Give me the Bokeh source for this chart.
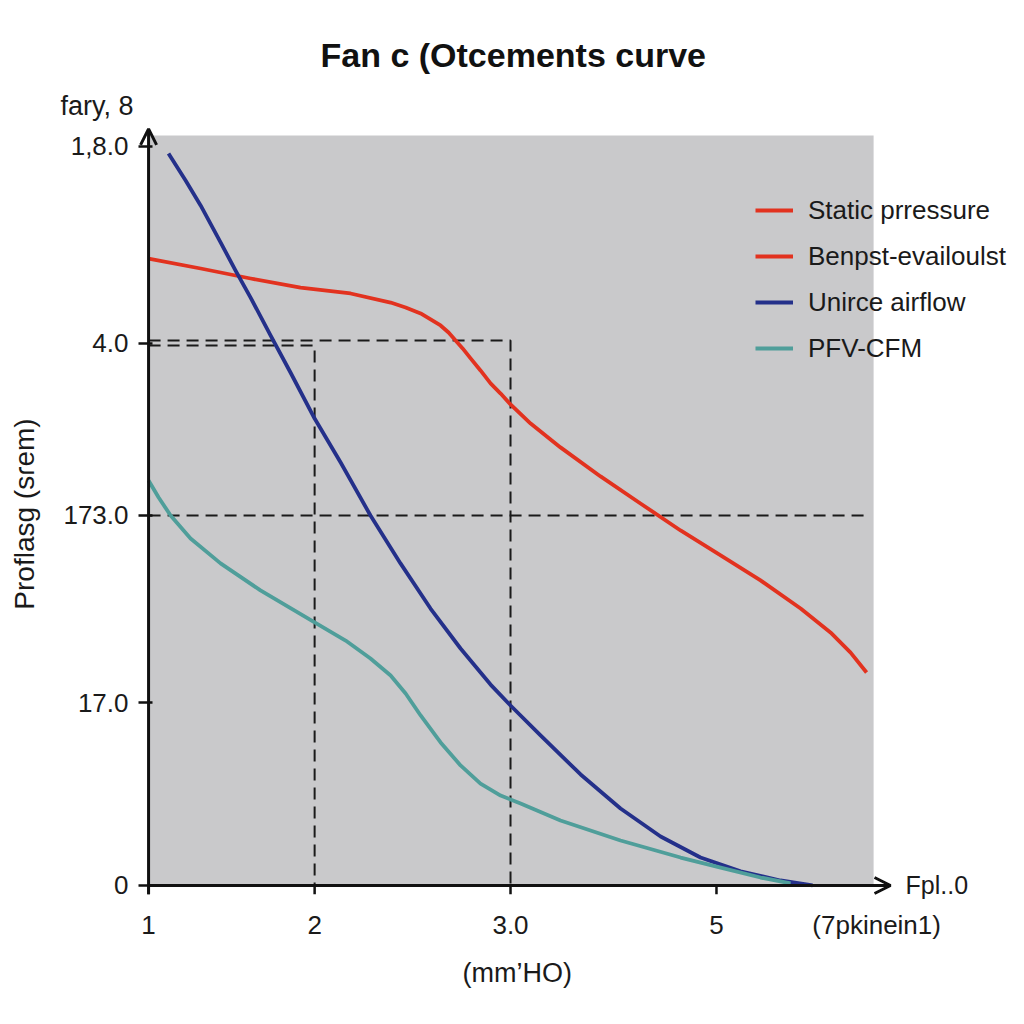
from bokeh.plotting import figure
from bokeh.models import (Legend, LegendItem, Label, Arrow, OpenHead,
                          FixedTicker, BoxAnnotation, Title)
from bokeh.embed import file_html
from bokeh.resources import INLINE

# ---- data ----
static_x = [1.000, 1.274, 1.537, 1.800, 2.063, 2.274, 2.353, 2.432, 2.537, 2.579,
            2.616, 2.653, 2.695, 2.747, 2.800, 2.853, 2.905, 3.011, 3.168, 3.379,
            3.589, 3.800, 4.011, 4.221, 4.432, 4.589, 4.695, 4.779]
static_y = [3.389, 3.335, 3.281, 3.232, 3.200, 3.151, 3.124, 3.092, 3.027, 2.989,
            2.946, 2.903, 2.849, 2.784, 2.714, 2.659, 2.600, 2.497, 2.368, 2.211,
            2.065, 1.919, 1.784, 1.649, 1.497, 1.368, 1.259, 1.151]

airflow_x = [1.105, 1.195, 1.274, 1.379, 1.458, 1.537, 1.642, 1.747, 1.874, 2.011,
             2.168, 2.326, 2.484, 2.642, 2.800, 2.905, 3.063, 3.274, 3.484, 3.695,
             3.905, 4.116, 4.326, 4.495]
airflow_y = [3.957, 3.811, 3.676, 3.476, 3.324, 3.178, 2.973, 2.773, 2.524, 2.286,
             2.000, 1.741, 1.497, 1.281, 1.086, 0.973, 0.811, 0.600, 0.416, 0.265,
             0.151, 0.076, 0.027, 0.000]

pfv_x = [1.000, 1.053, 1.116, 1.221, 1.379, 1.589, 1.874, 2.037, 2.168, 2.274,
         2.353, 2.432, 2.537, 2.642, 2.747, 2.853, 2.958, 3.168, 3.484, 3.800,
         4.011, 4.221, 4.379]
pfv_y = [2.189, 2.097, 2.000, 1.876, 1.741, 1.595, 1.422, 1.324, 1.227, 1.135,
         1.038, 0.919, 0.773, 0.649, 0.551, 0.486, 0.443, 0.351, 0.243, 0.151,
         0.097, 0.043, 0.011]

# guide lines
guide_a_x = [1.0, 2.905, 2.905]
guide_a_y = [2.946, 2.946, 0.0]
guide_b_x = [1.0, 1.874, 1.874]
guide_b_y = [2.919, 2.919, 0.0]
guide_c_x = [1.0, 4.774]
guide_c_y = [2.0, 2.0]

x_tick_pos = [1.0, 1.874, 2.905, 3.989]
x_tick_labels = ["1", "2", "3.0", "5"]
x_unit_pos = 4.832
x_unit_label = "(7pkinein1)"
y_tick_pos = [0.0, 0.989, 2.0, 2.930, 3.995]
y_tick_labels = ["0", "17.0", "173.0", "4.0", "1,8.0"]

series_names = ["Static prressure", "Benpst-evailoulst", "Unirce airflow", "PFV-CFM"]

RED = "#e2321f"
BLUE = "#24308a"
TEAL = "#4f9e9a"
INK = "#111111"
FONT = "Liberation Sans"

W, H = 1008, 1008
p = figure(width=W, height=H, output_backend="svg", toolbar_location=None,
           title_location=None,
           x_range=(0.947, 5.526), y_range=(-0.092, 4.108),
           min_border_left=138, min_border_right=0, min_border_top=125,
           min_border_bottom=H - 902, background_fill_color="white",
           border_fill_color="white", outline_line_color=None)
p.grid.visible = False

# titles (closest to the frame first)
p.add_layout(Title(text="fary, 8", text_font=FONT, text_font_size="27px",
                   text_font_style="normal", text_color="#1a1a1a",
                   align="left", offset=-78, standoff=10), "above")
p.add_layout(Title(text="Fan c (Otcements curve", text_font=FONT,
                   text_font_size="34px", text_font_style="bold",
                   text_color=INK, align="left", offset=182, standoff=20), "above")
p.add_layout(Title(text="(mm\u2019HO)", text_font=FONT, text_font_size="27px",
                   text_font_style="normal", text_color="#1a1a1a",
                   align="left", offset=324, standoff=27), "below")

# grey plotting panel
p.add_layout(BoxAnnotation(left=1.0, right=4.816, bottom=0.0, top=4.054,
                           fill_color="#c9c9cb", fill_alpha=1.0, line_color=None,
                           level="underlay"))

dash = "12 7"
p.line(guide_a_x, guide_a_y, line_color="#1a1a1a", line_width=2, line_dash=dash)
p.line(guide_b_x, guide_b_y, line_color="#1a1a1a", line_width=2, line_dash=dash)
p.line(guide_c_x, guide_c_y, line_color="#1a1a1a", line_width=2, line_dash=dash)

r1 = p.line(static_x, static_y, line_color=RED, line_width=3.8, line_join="round")
r3 = p.line(airflow_x, airflow_y, line_color=BLUE, line_width=3.8, line_join="round")
r4 = p.line(pfv_x, pfv_y, line_color=TEAL, line_width=3.8, line_join="round")

legend = Legend(items=[LegendItem(label=series_names[0], renderers=[r1]),
                       LegendItem(label=series_names[1], renderers=[r1]),
                       LegendItem(label=series_names[2], renderers=[r3]),
                       LegendItem(label=series_names[3], renderers=[r4])],
                location=(617, 534), padding=0, margin=0, spacing=6,
                glyph_width=38, glyph_height=40, label_height=40,
                label_standoff=15, label_text_font=FONT,
                label_text_font_size="26px", label_text_color="#1a1a1a",
                background_fill_alpha=0, border_line_color=None)
p.add_layout(legend)

# axes
for ax in (p.xaxis[0], p.yaxis[0]):
    ax.axis_line_color = None
    ax.major_tick_line_width = 2.5
    ax.major_tick_line_color = INK
    ax.minor_tick_line_color = None
    ax.major_label_text_font = FONT
    ax.major_label_text_font_size = "26px"
    ax.major_label_text_color = "#1a1a1a"
    ax.axis_label_text_font = FONT
    ax.axis_label_text_font_size = "28px"
    ax.axis_label_text_font_style = "normal"
    ax.axis_label_text_color = "#1a1a1a"

p.xaxis.ticker = FixedTicker(ticks=x_tick_pos + [x_unit_pos])
p.xaxis.major_label_overrides = dict(zip(x_tick_pos + [x_unit_pos],
                                         x_tick_labels + [x_unit_label]))
p.xaxis.major_tick_line_color = None
p.xaxis.major_tick_out = 0
p.xaxis.major_tick_in = 0
p.xaxis.major_label_standoff = 7

# x tick marks below the axis line (inside the frame)
p.segment(x0=x_tick_pos, y0=[0.0] * len(x_tick_pos), x1=x_tick_pos,
          y1=[-0.048] * len(x_tick_pos), line_color=INK, line_width=2.5)

p.yaxis.ticker = FixedTicker(ticks=y_tick_pos)
p.yaxis.major_label_overrides = dict(zip(y_tick_pos, y_tick_labels))
p.yaxis.major_tick_in = 14
p.yaxis.major_tick_out = 0
p.yaxis.major_label_standoff = 10
p.yaxis.axis_label = "Proflasg (s\u027Eem)"
p.yaxis.axis_label_standoff = 20

# axis lines with arrow heads
p.add_layout(Arrow(end=OpenHead(size=16, line_width=3, line_color=INK),
                   x_start=1.0, y_start=-0.048, x_end=1.0, y_end=4.09,
                   line_width=3, line_color=INK))
p.add_layout(Arrow(end=OpenHead(size=16, line_width=3, line_color=INK),
                   x_start=1.0, y_start=0.0, x_end=4.905, y_end=0.0,
                   line_width=3, line_color=INK))

p.add_layout(Label(x=4.984, y=0.0, text="Fpl..0", text_font=FONT,
                   text_font_size="25px", text_color="#1a1a1a",
                   text_baseline="middle", text_align="left"))

open("out.html", "w").write(file_html(p, INLINE))
